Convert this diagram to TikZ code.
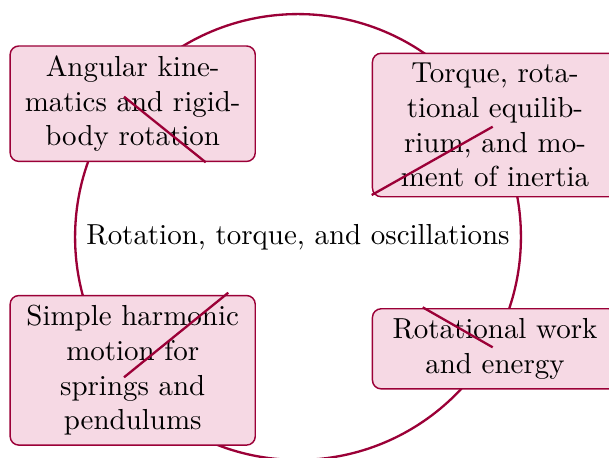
\documentclass[tikz,border=0pt]{standalone}
\definecolor{dk}{RGB}{155,0,55}
\definecolor{boxfill}{RGB}{246,217,228}
\begin{document}
\begin{tikzpicture}[x=0.3454pt,y=-0.3454pt,
  box/.style={draw=dk, line width=0.5pt, fill=boxfill, rounded corners=3pt,
    text width=78pt, align=center, inner sep=3.33pt},
  hubstyle/.style={circle, draw=dk, line width=0.8pt, minimum size=154pt, inner sep=0pt},
  link/.style={draw=dk, line width=0.8pt}]
\useasboundingbox (0,0) rectangle (609,457);
\node[hubstyle] (hub) at (298,237) {Rotation, torque, and oscillations};
\node[box] (kin) at (132.7,103.7) {Angular kinematics and rigid-body rotation};
\node[box] (tor) at (495,125) {Torque, rotational equilibrium, and moment of inertia};
\node[box] (shm) at (132.7,370.3) {Simple harmonic motion for springs and pendulums};
\node[box] (work) at (495,348.8) {Rotational work and energy};
\coordinate (a1) at (124,96.7);
\coordinate (a2) at (205.7,162.3);
\coordinate (b1) at (371.7,195);
\coordinate (b2) at (492.7,126.7);
\coordinate (c1) at (228.3,292.7);
\coordinate (c2) at (124,377.3);
\coordinate (d1) at (422.7,307.3);
\coordinate (d2) at (492.7,347.3);
\draw[link] (a1) -- (a2);
\draw[link] (b1) -- (b2);
\draw[link] (c1) -- (c2);
\draw[link] (d1) -- (d2);
\end{tikzpicture}
\end{document}
